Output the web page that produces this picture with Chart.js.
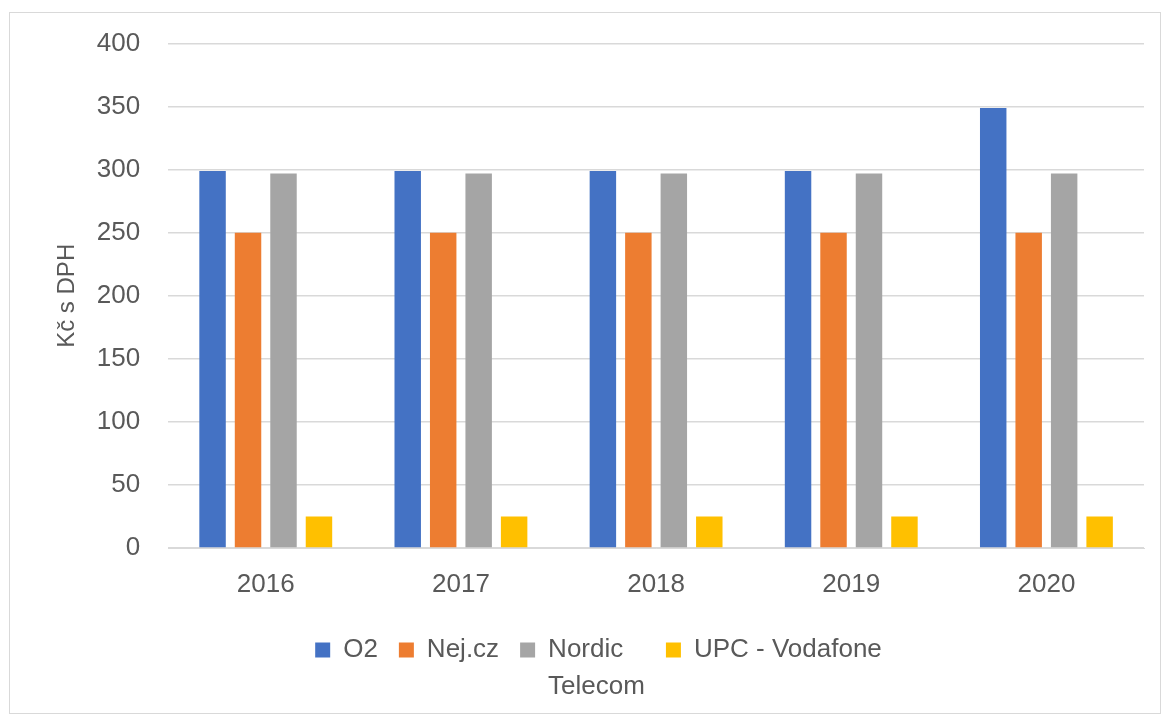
<!DOCTYPE html>
<html>
<head>
<meta charset="utf-8">
<script src="https://cdn.jsdelivr.net/npm/chart.js@4.4.1/dist/chart.umd.min.js"></script>
<style>
  html, body { margin: 0; padding: 0; background: #fff; }
  #ramecek {
    position: absolute; left: 9px; top: 12px;
    width: 1150px; height: 700px;
    border: 1px solid #d9d9d9;
  }
  #graf-box { position: absolute; left: 0; top: 0; width: 1166px; height: 722px; }
</style>
</head>
<body>
<div id="ramecek"></div>
<div id="graf-box"><canvas id="graf"></canvas></div>
<script>
// Roky (kategorie)
const roky = ["2016", "2017", "2018", "2019", "2020"];

// Ceny v Kč s DPH
const cenyO2 = [299, 299, 299, 299, 349];
const cenyNej = [250, 250, 250, 250, 250];
const cenyNordic = [297, 297, 297, 297, 297];
const cenyUpc = [25, 25, 25, 25, 25];

// Popisky osy Y
const osaYMin = 0;
const osaYMax = 400;
const osaYKrok = 50;

const sedaText = "#595959";
const pismo = "'Liberation Sans', Arial, sans-serif";

// Dvouřádkový popisek v legendě - šířku měří podle delšího řádku
const nordicPopisek = ["Nordic", "Telecom"];
nordicPopisek.toString = () => "Telecom";

// Legenda má druhý řádek textu, přidáme jí výšku
const vyskaLegendy = {
  id: "vyskaLegendy",
  beforeLayout(chart) {
    const legenda = chart.legend;
    if (legenda && !legenda._upraveno) {
      const puvodniFit = legenda.fit;
      legenda.fit = function () {
        puvodniFit.call(this);
        this.height += 38;
      };
      legenda._upraveno = true;
    }
  }
};

const ctx = document.getElementById("graf").getContext("2d");
new Chart(ctx, {
  type: "bar",
  data: {
    labels: roky,
    datasets: [
      { label: "O2", data: cenyO2, backgroundColor: "#4472C4" },
      { label: "Nej.cz", data: cenyNej, backgroundColor: "#ED7D31" },
      { label: nordicPopisek, data: cenyNordic, backgroundColor: "#A5A5A5" },
      { label: "UPC - Vodafone", data: cenyUpc, backgroundColor: "#FFC000" }
    ]
  },
  plugins: [vyskaLegendy],
  options: {
    responsive: true,
    maintainAspectRatio: false,
    animation: false,
    categoryPercentage: 0.727,
    barPercentage: 0.746,
    layout: {
      padding: { left: 53, right: 22, top: 43.4, bottom: 11 }
    },
    plugins: {
      tooltip: { enabled: false },
      legend: {
        position: "bottom",
        labels: {
          color: sedaText,
          font: { family: pismo, size: 26, lineHeight: 1.4 },
          boxWidth: 15,
          boxHeight: 15,
          padding: 21
        }
      }
    },
    scales: {
      x: {
        grid: { display: false },
        border: { display: true, color: "#d9d9d9", width: 1 },
        ticks: {
          color: sedaText,
          font: { family: pismo, size: 26 },
          padding: 13
        },
        afterFit(osa) { osa.height += 2.8; }
      },
      y: {
        min: osaYMin,
        max: osaYMax,
        grid: { color: "#d9d9d9", lineWidth: 1.5, drawTicks: false },
        border: { display: false },
        ticks: {
          stepSize: osaYKrok,
          color: sedaText,
          font: { family: pismo, size: 26 },
          padding: 28
        },
        title: {
          display: true,
          text: "Kč s DPH",
          color: sedaText,
          font: { family: pismo, size: 24 },
          padding: { top: 0, bottom: 21 }
        },
        afterFit(osa) { osa.width -= 34; }
      }
    }
  }
});
</script>
</body>
</html>
